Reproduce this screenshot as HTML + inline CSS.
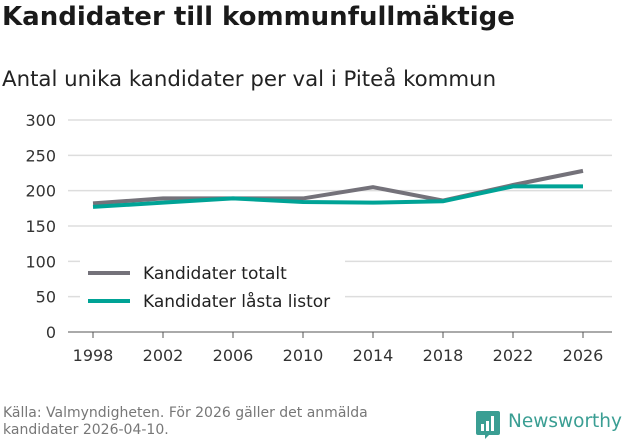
<!DOCTYPE html>
<html><head><meta charset="utf-8"><style>
body{margin:0;width:631px;height:439px;background:#fff;font-family:"DejaVu Sans","Liberation Sans",sans-serif;overflow:hidden;position:relative}
.t{position:absolute;left:2px;top:2px;font-size:26px;font-weight:bold;color:#1a1a1a}
.s{position:absolute;left:2px;top:67px;font-size:21.3px;color:#222}
.f{position:absolute;left:3px;top:405px;font-size:14px;color:#777;line-height:17px}
</style></head><body>
<div class="t">Kandidater till kommunfullmäktige</div>
<div class="s">Antal unika kandidater per val i Piteå kommun</div>
<svg id="c" width="631" height="439" style="position:absolute;left:0;top:0"></svg>
<div class="f">Källa: Valmyndigheten. För 2026 gäller det anmälda<br>kandidater 2026-04-10.</div>
<div style="position:absolute;left:476px;top:410px;">
<svg width="26" height="30" style="position:absolute;left:0;top:0"><path d="M2 1h20a2 2 0 0 1 2 2v20a2 2 0 0 1-2 2h-9l-4 4v-4H2a2 2 0 0 1-2-2V3a2 2 0 0 1 2-2z" fill="#3a9e93"/><rect x="5" y="14" width="3" height="7" fill="#fff"/><rect x="10" y="11" width="3" height="10" fill="#fff"/><rect x="15" y="6" width="3" height="15" fill="#fff"/></svg>
<span style="position:absolute;left:32px;top:1px;font-size:18.5px;color:#3a9e93;white-space:nowrap">Newsworthy</span></div>
<script>
const years=["1998","2002","2006","2010","2014","2018","2022","2026"];
const totalt=[182,189,189,189,205,186,208,228];
const lasta=[177,183,189,184,183,185,206,206];
const yTicks=[0,50,100,150,200,250,300];
const svg=document.getElementById('c');const NS='http://www.w3.org/2000/svg';
const x=i=>93+i*70, y=v=>332-v*0.7067;
function mk(t,a){const e=document.createElementNS(NS,t);for(const k in a)e.setAttribute(k,a[k]);svg.appendChild(e);return e;}
yTicks.forEach(v=>{
 const g=mk('line',{x1:68,x2:612,y1:y(v),y2:y(v),stroke:v===0?'#555':'#ddd','stroke-width':v===0?1:1.5});
 
 
 const t=mk('text',{x:56,y:y(v)+6,'text-anchor':'end','font-size':16,fill:'#333','font-family':'DejaVu Sans, sans-serif'});t.textContent=v;
 
 
});
years.forEach((yr,i)=>{
 const tk=mk('line',{x1:x(i),x2:x(i),y1:332,y2:338,stroke:'#555'});
 
 
 const t=mk('text',{x:x(i),y:361,'text-anchor':'middle','font-size':16,fill:'#333','font-family':'DejaVu Sans, sans-serif'});t.textContent=yr;
 
 
});
function line(d,c,n){const p=mk('polyline',{points:d.map((v,i)=>x(i)+','+y(v)).join(' '),fill:'none',stroke:c,'stroke-width':4});
 
 }
line(totalt,'#74727a','series-kandidater-totalt');
line(lasta,'#00a396','series-kandidater-lasta-listor');
const bg=mk('rect',{x:80,y:256,width:265,height:64,fill:'#fff'});


[['Kandidater totalt','#74727a',273],['Kandidater låsta listor','#00a396',301]].forEach(([l,c,yy])=>{
 const s=mk('line',{x1:88,x2:130,y1:yy,y2:yy,stroke:c,'stroke-width':4});
 
 
 const t=mk('text',{x:143,y:yy+6,'font-size':17,fill:'#222','font-family':'DejaVu Sans, sans-serif'});t.textContent=l;
 
 
});
</script>
</body></html>
